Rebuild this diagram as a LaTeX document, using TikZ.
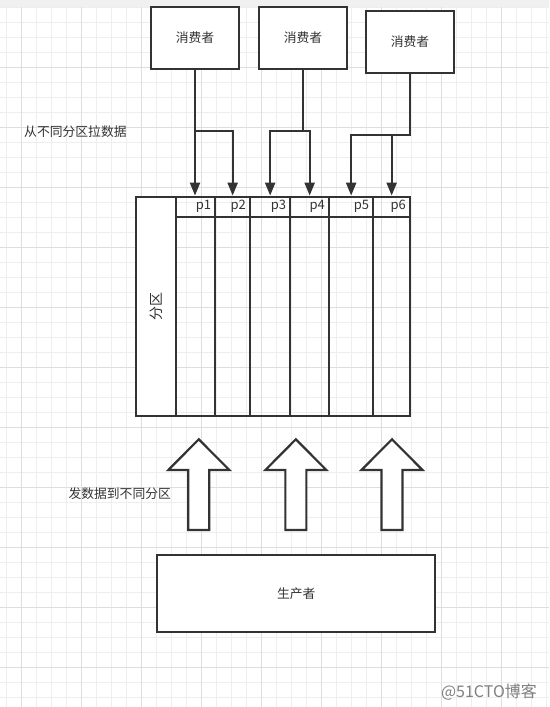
\documentclass[tikz,border=0pt]{standalone}
\usepackage{fontspec}
\setmainfont{Noto Sans CJK SC}
\usetikzlibrary{arrows.meta}
\definecolor{ink}{HTML}{333333}
\definecolor{gridminor}{HTML}{EEEEEE}
\definecolor{gridmajor}{HTML}{DEDEDE}
\definecolor{band}{HTML}{F0F0F0}

\begin{document}
\begin{tikzpicture}[x=1pt,y=-1pt,
    box/.style={draw=ink,line width=2.2pt,fill=white,text=ink,
        font=\fontsize{12.8}{14}\selectfont},
    cell/.style={draw=ink,line width=2.2pt},
    plabel/.style={font=\fontsize{13}{14}\selectfont,text=ink,
        inner sep=0pt,anchor=east},
    note/.style={font=\fontsize{12.8}{14}\selectfont,text=ink,
        anchor=west,inner sep=0pt},
    pull/.style={draw=ink,line width=2.2pt,-{Triangle[length=13pt,width=10pt]}},
    push/.style={draw=ink,line width=2.2pt,fill=white}]

    \useasboundingbox (0,0) rectangle (549,707);
    \fill[white] (0,0) rectangle (549,707);
    \fill[band] (0,0) rectangle (549,6.7);
    % grid
    \foreach \gx in {6.7,21.7,...,546.7}
        \draw[gridminor,line width=1pt] (\gx,6.7) -- (\gx,707);
    \foreach \gy in {7.3,22.3,...,706}
        \draw[gridminor,line width=1pt] (0,\gy) -- (549,\gy);
    \foreach \gx in {21.7,81.7,...,501.7}
        \draw[gridmajor,line width=1pt] (\gx,6.7) -- (\gx,707);
    \foreach \gy in {67.3,127.3,...,667.3}
        \draw[gridmajor,line width=1pt] (0,\gy) -- (549,\gy);

    % consumers
    \node[box,minimum width=88pt,minimum height=62pt] (c1) at (195,38) {消费者};
    \node[box,minimum width=88pt,minimum height=62pt] (c2) at (303,38) {消费者};
    \node[box,minimum width=88pt,minimum height=62pt] (c3) at (410,42) {消费者};

    % partitions
    \node[cell,fill=white,rotate=90,minimum width=219.3pt,minimum height=39.7pt,
        text=ink,font=\fontsize{14}{16}\selectfont] (lab) at (155.85,306.35) {分区};
    \foreach \i/\cx/\w in {1/195.5/39.6, 2/232.65/34.7, 3/270.15/40.3,
                          4/309.65/38.7, 5/351.15/44.3, 6/391.65/36.7}{
        \node[cell,minimum width=\w pt,minimum height=20pt] (h\i) at (\cx,206.7) {};
        \node[cell,minimum width=\w pt,minimum height=199.3pt] (b\i) at (\cx,316.35) {};
        \node[plabel] (p\i) at ([xshift=-5pt]h\i.east) {p\i};
    }

    \coordinate (j1) at (c1.south |- 0,131);
    \coordinate (j2) at (c2.south |- 0,131);
    \coordinate (j3) at (c3.south |- 0,135);

    \draw[pull] (c1.south) -- (c1.south |- h1.north);
    \draw[pull] (j1) -| (h2.north);
    \draw[draw=ink,line width=2.2pt] (c2.south) -- (j2);
    \draw[pull] (j2) -| (h3.north);
    \draw[pull] (j2) -| (h4.north);
    \draw[pull] (c3.south) -- (j3) -| (h5.north);
    \draw[pull] (j3 -| h6.north) -- (h6.north);

    \node[note] (pullnote) at (24,131.7) {从不同分区拉数据};

    % producer
    \foreach \ax in {198.8,295.85,392}
        \draw[push] (\ax,439.3) -- ++(30.5,30.7) -- ++(-20,0) -- ++(0,60)
            -- ++(-21,0) -- ++(0,-60) -- ++(-20,0) -- cycle;
    \node[note] (pushnote) at (68.3,494) {发数据到不同分区};
    \node[box,minimum width=277.7pt,minimum height=77.3pt] (prod) at (296.2,593.7) {生产者};

    \node[font=\fontsize{16}{18}\selectfont,text=gray] (mark) at (489,691.7) {@51CTO博客};
\end{tikzpicture}
\end{document}
